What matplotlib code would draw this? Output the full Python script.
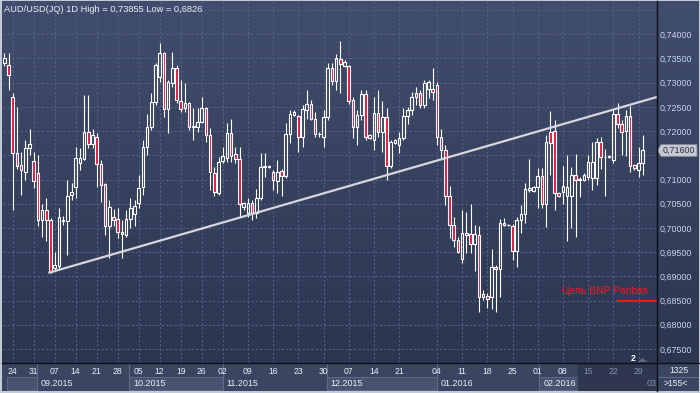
import numpy as np
import matplotlib
matplotlib.use("Agg")
import matplotlib.pyplot as plt
from matplotlib.patches import Polygon, Rectangle
from matplotlib.lines import Line2D
from matplotlib.colors import LinearSegmentedColormap
from matplotlib.transforms import blended_transform_factory

plt.rcParams['font.family'] = ['Liberation Sans', 'DejaVu Sans']

# ---------------- data ----------------
opens = [0.7341, 0.7337, 0.7271, 0.7155, 0.7130, 0.7116, 0.7165, 0.7139, 0.7113, 0.7016,
         0.7036, 0.7016, 0.6917, 0.6921, 0.7014, 0.7015, 0.7068, 0.7085, 0.7135, 0.7142,
         0.7199, 0.7173, 0.7188, 0.7132, 0.7091, 0.7004, 0.7023, 0.7018, 0.6992, 0.6985,
         0.7018, 0.7029, 0.7051, 0.7085, 0.7167, 0.7209, 0.7261, 0.7312, 0.7362, 0.7246,
         0.7300, 0.7330, 0.7263, 0.7247, 0.7259, 0.7208, 0.7208, 0.7219, 0.7248, 0.7192,
         0.7114, 0.7073, 0.7139, 0.7144, 0.7196, 0.7153, 0.7142, 0.7044, 0.7031, 0.7051,
         0.7030, 0.7061, 0.7125, 0.7125, 0.7116, 0.7096, 0.7118, 0.7107, 0.7194, 0.7233,
         0.7231, 0.7187, 0.7244, 0.7256, 0.7226, 0.7193, 0.7188, 0.7230, 0.7330, 0.7304,
         0.7350, 0.7335, 0.7335, 0.7264, 0.7208, 0.7233, 0.7277, 0.7185, 0.7182, 0.7237,
         0.7199, 0.7230, 0.7128, 0.7176, 0.7171, 0.7185, 0.7231, 0.7244, 0.7279, 0.7279,
         0.7254, 0.7288, 0.7288, 0.7295, 0.7187, 0.7161, 0.7065, 0.7006, 0.6975, 0.6935,
         0.6990, 0.6987, 0.6967, 0.6985, 0.6858, 0.6859, 0.6858, 0.6920, 0.6915, 0.7011,
         0.7005, 0.7004, 0.6953, 0.7016, 0.7029, 0.7078, 0.7077, 0.7084, 0.7107, 0.7049,
         0.7199, 0.7201, 0.7072, 0.7075, 0.7066, 0.7066, 0.7109, 0.7100, 0.7100, 0.7105,
         0.7103, 0.7103, 0.7178, 0.7146, 0.7146, 0.7140, 0.7235, 0.7215, 0.7201, 0.7231,
         0.7130, 0.7120, 0.7135]
highs = [0.7361, 0.7361, 0.7279, 0.7250, 0.7157, 0.7182, 0.7204, 0.7157, 0.7151, 0.7049,
         0.7062, 0.7021, 0.6951, 0.7041, 0.7025, 0.7098, 0.7093, 0.7167, 0.7165, 0.7275,
         0.7275, 0.7204, 0.7196, 0.7140, 0.7093, 0.7058, 0.7039, 0.7041, 0.7016, 0.7037,
         0.7062, 0.7058, 0.7109, 0.7182, 0.7235, 0.7279, 0.7341, 0.7382, 0.7364, 0.7306,
         0.7364, 0.7337, 0.7306, 0.7299, 0.7261, 0.7248, 0.7248, 0.7271, 0.7250, 0.7206,
         0.7126, 0.7147, 0.7168, 0.7217, 0.7225, 0.7168, 0.7168, 0.7054, 0.7062, 0.7058,
         0.7080, 0.7154, 0.7155, 0.7130, 0.7120, 0.7140, 0.7121, 0.7216, 0.7244, 0.7244,
         0.7233, 0.7254, 0.7284, 0.7264, 0.7240, 0.7198, 0.7244, 0.7341, 0.7341, 0.7359,
         0.73855, 0.7346, 0.7337, 0.7271, 0.7244, 0.7285, 0.7284, 0.7194, 0.7271, 0.7284,
         0.7263, 0.7247, 0.7182, 0.7184, 0.7199, 0.7247, 0.7250, 0.7281, 0.7292, 0.7285,
         0.7306, 0.7306, 0.7330, 0.7302, 0.7205, 0.7171, 0.7087, 0.7023, 0.6982, 0.7036,
         0.7033, 0.7049, 0.7006, 0.7003, 0.6872, 0.6865, 0.6956, 0.6923, 0.7018, 0.7020,
         0.7008, 0.7008, 0.7023, 0.7047, 0.7092, 0.7142, 0.7086, 0.7123, 0.7123, 0.7192,
         0.7242, 0.7222, 0.7075, 0.7128, 0.7151, 0.7125, 0.7153, 0.7106, 0.7114, 0.7151,
         0.7178, 0.7185, 0.7187, 0.7162, 0.7151, 0.7245, 0.7259, 0.7223, 0.7244, 0.7252,
         0.7132, 0.7167, 0.7192]
lows = [0.7335, 0.7285, 0.7037, 0.7122, 0.7068, 0.7098, 0.7151, 0.7082, 0.7003, 0.6982,
        0.6972, 0.6907, 0.6913, 0.6913, 0.7006, 0.6944, 0.7058, 0.7062, 0.7120, 0.7140,
        0.7165, 0.7165, 0.7085, 0.7054, 0.6985, 0.6938, 0.7003, 0.6979, 0.6938, 0.6982,
        0.7000, 0.7003, 0.7041, 0.7068, 0.7151, 0.7202, 0.7254, 0.7302, 0.7230, 0.7197,
        0.7292, 0.7258, 0.7240, 0.7240, 0.7202, 0.7182, 0.7199, 0.7217, 0.7178, 0.7078,
        0.7065, 0.7068, 0.7134, 0.7137, 0.7137, 0.7134, 0.7023, 0.7037, 0.7023, 0.7016,
        0.7020, 0.7058, 0.7106, 0.7123, 0.7078, 0.7072, 0.7065, 0.7103, 0.7176, 0.7231,
        0.7157, 0.7168, 0.7226, 0.7223, 0.7188, 0.7188, 0.7168, 0.7223, 0.7295, 0.7285,
        0.7278, 0.7333, 0.7257, 0.7185, 0.7171, 0.7223, 0.7182, 0.7183, 0.7161, 0.7188,
        0.7157, 0.7098, 0.7123, 0.7173, 0.7154, 0.7182, 0.7215, 0.7233, 0.7254, 0.7247,
        0.7247, 0.7268, 0.7264, 0.7171, 0.7143, 0.7047, 0.6979, 0.6961, 0.6948, 0.6927,
        0.6948, 0.6948, 0.6910, 0.6827, 0.6851, 0.6834, 0.6832, 0.6826, 0.6858, 0.7003,
        0.7003, 0.6934, 0.6919, 0.6989, 0.7010, 0.7075, 0.7075, 0.7041, 0.7041, 0.7001,
        0.7109, 0.7036, 0.7063, 0.7049, 0.6972, 0.6999, 0.6982, 0.7063, 0.7097, 0.7098,
        0.7078, 0.7089, 0.7121, 0.7066, 0.7144, 0.7135, 0.7206, 0.7151, 0.7149, 0.7116,
        0.7120, 0.7106, 0.7109]
closes = [0.7351, 0.7316, 0.7155, 0.7128, 0.7120, 0.7165, 0.7173, 0.7096, 0.7016, 0.7036,
          0.7016, 0.6909, 0.6923, 0.7023, 0.7016, 0.7065, 0.7074, 0.7144, 0.7144, 0.7199,
          0.7173, 0.7192, 0.7132, 0.7088, 0.7004, 0.7044, 0.7016, 0.6992, 0.6987, 0.7018,
          0.7041, 0.7045, 0.7082, 0.7167, 0.7209, 0.7261, 0.7337, 0.7362, 0.7246, 0.7302,
          0.7330, 0.7264, 0.7246, 0.7259, 0.7209, 0.7211, 0.7219, 0.7248, 0.7192, 0.7116,
          0.7075, 0.7137, 0.7149, 0.7196, 0.7149, 0.7142, 0.7049, 0.7051, 0.7051, 0.7031,
          0.7061, 0.7126, 0.7128, 0.7128, 0.7098, 0.7116, 0.7107, 0.7194, 0.7235, 0.7240,
          0.7188, 0.7245, 0.7256, 0.7226, 0.7193, 0.7194, 0.7230, 0.7330, 0.7304, 0.7350,
          0.7339, 0.7343, 0.7263, 0.7208, 0.7233, 0.7277, 0.7187, 0.7192, 0.7237, 0.7199,
          0.7230, 0.7128, 0.7178, 0.7182, 0.7185, 0.7231, 0.7244, 0.7271, 0.7271, 0.7254,
          0.7300, 0.7302, 0.7281, 0.7187, 0.7161, 0.7065, 0.7006, 0.6975, 0.6951, 0.6990,
          0.6985, 0.6967, 0.6987, 0.6858, 0.6863, 0.6853, 0.6920, 0.6915, 0.7010, 0.7006,
          0.7006, 0.6953, 0.7016, 0.7029, 0.7080, 0.7082, 0.7084, 0.7107, 0.7049, 0.7178,
          0.7176, 0.7072, 0.7066, 0.7087, 0.7085, 0.7109, 0.7099, 0.7101, 0.7109, 0.7137,
          0.7137, 0.7178, 0.7146, 0.7147, 0.7149, 0.7235, 0.7215, 0.7199, 0.7231, 0.7128,
          0.7123, 0.7135, 0.7160]

week_pos = [2, 7, 12, 17, 22, 27, 32, 37, 42, 47, 52, 58, 64, 70, 76, 82, 88, 94,
            103, 109, 115, 121, 127, 133, 139, 145, 151]
week_labels = ["24", "31", "07", "14", "21", "28", "05", "12", "19", "26", "02", "09",
               "16", "23", "30", "07", "14", "21", "04", "11", "18", "25", "01", "08",
               "15", "22", "29"]
month_edges = [7.86, 29.76, 52.0, 76.76, 103.1, 127.4, 152.1]
month_labels = ["09.2015", "10.2015", "11.2015", "12.2015", "01.2016", "02.2016", "03"]
price_ticks = [0.675, 0.680, 0.685, 0.690, 0.695, 0.700, 0.705, 0.710, 0.715,
               0.720, 0.725, 0.730, 0.735, 0.740]
last_price = 0.7160
trend_x = [10.5, 152]
trend_y = [0.6907, 0.7262]
target_level = 0.685
target_label = "Цель BNP Paribas"
title = "AUD/USD(JQ) 1D High = 0,73855 Low = 0,6826"
bars_count = "1325"
visible_label = ">155<"

# ---------------- layout helpers ----------------
W, H = 700, 393
fig = plt.figure(figsize=(7.0, 3.93), dpi=100)
fig.patch.set_facecolor('#c3cad6')


def rect(x0, y0, x1, y1):
    return [x0 / W, 1 - y1 / H, (x1 - x0) / W, (y1 - y0) / H]


def bare(a):
    a.set_xticks([])
    a.set_yticks([])
    for s in a.spines.values():
        s.set_visible(False)


PX_PER_UNIT = 4840.0  # pixels per 1.0 price
# background gradient (plot + right scale)
bg = fig.add_axes(rect(2, 1, 699, 363))
cmap = LinearSegmentedColormap.from_list('g', ['#414d6d', '#2c3651'])
bg.imshow(np.linspace(0, 1, 256).reshape(-1, 1), cmap=cmap, aspect='auto',
          extent=[0, 1, 0, 1], interpolation='bilinear')
bg.set_axis_off()

ax = fig.add_axes(rect(3, 1, 657, 363))
ax.set_facecolor('none')
x0_idx = (3 - 4.3) / 4.2
x1_idx = (657 - 4.3) / 4.2
ax.set_xlim(x0_idx, x1_idx)
ytop = 0.740 + (34.3 - 1) / PX_PER_UNIT
ybot = 0.740 - (363 - 34.3) / PX_PER_UNIT
ax.set_ylim(ybot, ytop)
for s in ax.spines.values():
    s.set_visible(False)

grid_c = '#56638a'
for v in np.arange(0.675, 0.7451, 0.005):
    ax.axhline(v, color=grid_c, lw=0.7, dashes=(2.2, 2.2), zorder=1)
for p in week_pos:
    ax.axvline(p, color=grid_c, lw=0.7, dashes=(2.2, 2.2), zorder=1)

# candles
o = np.array(opens); h = np.array(highs); l = np.array(lows); c = np.array(closes)
xs = np.arange(len(o))
tops = np.maximum(o, c)
bots = np.minimum(o, c)
ax.vlines(xs, tops, h, color='white', lw=0.8, zorder=3)
ax.vlines(xs, l, bots, color='white', lw=0.8, zorder=3)
faces = [(0.89, 0.09, 0.24, 1.0) if cc < oo else (0, 0, 0, 0) for oo, cc in zip(o, c)]
ax.bar(xs, np.maximum(tops - bots, 1e-6), bottom=bots, width=0.6, color=faces,
       edgecolor='white', linewidth=0.8, zorder=4)

# trend line
slope = (trend_y[1] - trend_y[0]) / (trend_x[1] - trend_x[0])
tx = np.array([trend_x[0], x1_idx])
ty = trend_y[0] + slope * (tx - trend_x[0])
ax.plot(tx, ty, color='#d6d7dc', lw=1.6, zorder=5, solid_capstyle='butt')

# target line
ax.plot([146.1, x1_idx], [target_level, target_level], color='#ff1414', lw=1.5, zorder=5)
ax.text(132.8, target_level + 9.8 / PX_PER_UNIT, target_label, color='#f01c1c',
        fontsize=7.4, ha='left', va='center', zorder=6)

# right price scale (the 0,71500 label is hidden by the last-price tag)
ax.set_xticks([])
ax.yaxis.tick_right()
ax.set_yticks(price_ticks)
ax.set_yticklabels(['' if abs(v - last_price) < 0.0025 else ('%.5f' % v).replace('.', ',')
                    for v in price_ticks])
ax.tick_params(axis='y', length=0, pad=1.7, labelsize=6.4, labelcolor='#c9d6ee')

# last price tag
tr = blended_transform_factory(fig.transFigure, ax.transData)
hh = 6.0 / PX_PER_UNIT
tag = Polygon([(657.5 / W, last_price), (661 / W, last_price + hh), (697 / W, last_price + hh),
               (697 / W, last_price - hh), (661 / W, last_price - hh)], closed=True,
              transform=tr, facecolor='#c4c8d0', edgecolor='#7d8597', lw=0.6,
              clip_on=False, zorder=10)
ax.add_patch(tag)
ax.text(662.5 / W, last_price, ('%.5f' % last_price).replace('.', ','), transform=tr,
        fontsize=6.4, color='#2a3145', ha='left', va='center', zorder=11, clip_on=False)

# title
fig.text(4 / W, 1 - 9 / H, title, fontsize=6.7, color='#e6ecf6', ha='left', va='center')

# marker "2" near bottom
fig.text(633 / W, 1 - 358.5 / H, '2', fontsize=6.4, color='white', fontweight='bold',
         ha='center', va='center')
fig.add_artist(Polygon([(638 / W, 1 - 362 / H), (648 / W, 1 - 362 / H), (642 / W, 1 - 358 / H)],
                       closed=True, transform=fig.transFigure, facecolor='#5d6579',
                       edgecolor='none'))

# ---------------- date axis ----------------
axd = fig.add_axes(rect(2, 363, 657, 391))
axd.set_facecolor('#3a4661')
axd.set_xlim((2 - 4.3) / 4.2, x1_idx)
axd.set_ylim(0, 28)
bare(axd)
shade_start = 136.7
light_boxes = [(0.71, month_edges[0]), (month_edges[1], month_edges[2]),
               (month_edges[3], month_edges[4]), (month_edges[5], shade_start)]
for a, b in light_boxes:
    axd.add_patch(Rectangle((a, 1.0), b - a, 13.3, facecolor='#48546f',
                            edgecolor='#5d6986', lw=0.7, zorder=1))
for e in month_edges[:-1]:
    axd.axvline(e, color='#5f6b88', lw=0.8, zorder=2)
axd.axvspan(shade_start, x1_idx + 2, color='#2a3349', alpha=0.75, zorder=3)
for p, lab in zip(week_pos, week_labels):
    col = '#8390a8' if p > shade_start else '#e8eef8'
    axd.text(p, 19.4, lab, ha='center', va='center', fontsize=6.2, color=col, zorder=4)
for e, lab in zip(month_edges, month_labels):
    col = '#8390a8' if e > shade_start else '#e8eef8'
    axd.text(e + 0.9, 7.4, lab, ha='left', va='center', fontsize=6.5, color=col,
             zorder=4, clip_on=True)

# ---------------- bottom-right panel ----------------
axr = fig.add_axes(rect(657, 363, 699, 391))
axr.set_facecolor('#3a4661')
axr.set_xlim(0, 42); axr.set_ylim(0, 28)
bare(axr)
axr.axhline(14.3, color='#5f6b88', lw=0.8)
axr.text(21.5, 20.5, bars_count, ha='center', va='center', fontsize=6.2, color='#eef2fa')
axr.text(19.0, 7.2, visible_label, ha='center', va='center', fontsize=6.2, color='#eef2fa')

# separator lines
fig.add_artist(Line2D([2 / W, 699 / W], [1 - 363 / H, 1 - 363 / H], color='#0c0f18', lw=1.0,
                      transform=fig.transFigure))
fig.add_artist(Line2D([656.8 / W, 656.8 / W], [1 - 1 / H, 1 - 391 / H], color='#0c0f18', lw=1.0,
                      transform=fig.transFigure))

fig.savefig('out.png', dpi=100, facecolor=fig.get_facecolor())
